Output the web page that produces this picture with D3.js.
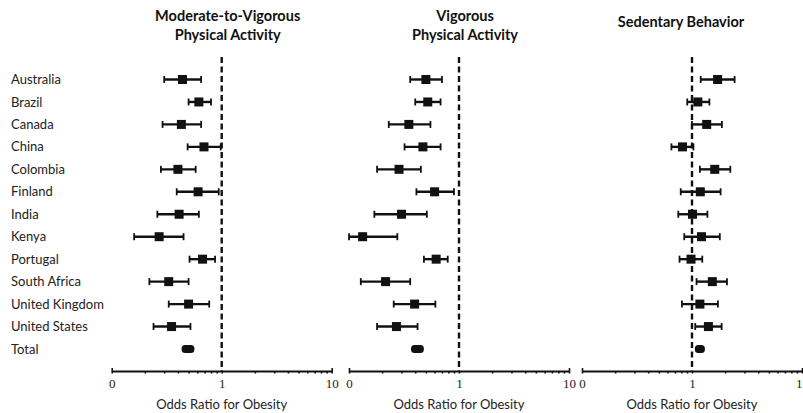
<!DOCTYPE html>
<html>
<head>
<meta charset="utf-8">
<script src="https://cdn.jsdelivr.net/npm/d3@7"></script>
<style>
  body { margin: 0; background: #fff; }
  .diagram svg { display: block; }
</style>
</head>
<body>
<div class="diagram"></div>
<script>
// countries, top to bottom
let countries = ["Australia", "Brazil", "Canada", "China", "Colombia", "Finland", "India",
                 "Kenya", "Portugal", "South Africa", "United Kingdom", "United States", "Total"];

// Moderate-to-Vigorous Physical Activity
let mvpaOR = [0.44, 0.62, 0.43, 0.69, 0.40, 0.61, 0.41, 0.27, 0.67, 0.33, 0.50, 0.35, 0.49];
let mvpaLo = [0.30, 0.50, 0.29, 0.49, 0.28, 0.39, 0.26, 0.16, 0.51, 0.22, 0.33, 0.24, 0.46];
let mvpaHi = [0.65, 0.80, 0.65, 0.98, 0.58, 0.94, 0.62, 0.45, 0.87, 0.50, 0.77, 0.52, 0.53];

// Vigorous Physical Activity
let vpaOR = [0.50, 0.52, 0.35, 0.47, 0.285, 0.60, 0.30, 0.133, 0.62, 0.215, 0.395, 0.27, 0.42];
let vpaLo = [0.36, 0.40, 0.23, 0.32, 0.18, 0.41, 0.17, 0.10, 0.48, 0.128, 0.255, 0.18, 0.39];
let vpaHi = [0.70, 0.68, 0.55, 0.68, 0.45, 0.90, 0.51, 0.275, 0.79, 0.36, 0.61, 0.42, 0.45];

// Sedentary Behavior
let sedOR = [1.71, 1.13, 1.36, 0.82, 1.61, 1.19, 1.01, 1.22, 0.98, 1.53, 1.18, 1.41, 1.18];
let sedLo = [1.20, 0.905, 1.00, 0.65, 1.18, 0.79, 0.75, 0.85, 0.77, 1.10, 0.81, 1.07, 1.13];
let sedHi = [2.44, 1.44, 1.87, 1.03, 2.23, 1.82, 1.38, 1.79, 1.24, 2.08, 1.72, 1.86, 1.23];

let tickValues = [0.1, 0.2, 0.3, 0.4, 0.5, 0.6, 0.7, 0.8, 0.9, 1, 2, 3, 4, 5, 6, 7, 8, 9, 10];
let tickLabels = { 0.1: "0", 1: "1", 10: "10" };
let xLabel = "Odds Ratio for Obesity";

let panels = [
    { title: ["Moderate-to-Vigorous", "Physical Activity"], or: mvpaOR, lo: mvpaLo, hi: mvpaHi, x0: 111.7, x1: 331.7 },
    { title: ["Vigorous", "Physical Activity"], or: vpaOR, lo: vpaLo, hi: vpaHi, x0: 349, x1: 569 },
    { title: ["Sedentary Behavior"], or: sedOR, lo: sedLo, hi: sedHi, x0: 582, x1: 802 }
];

let width = 803, height = 413;
let axisY = 371;
let sansFont = "Lato, 'Open Sans', sans-serif";

let svg = d3.select(".diagram").append("svg").attr("width", width).attr("height", height);

let y = d3.scalePoint().domain(countries).range([79.5, 349]);

// country labels
svg.append("g").selectAll("text").data(countries).enter().append("text")
    .attr("x", 11)
    .attr("y", d => y(d))
    .attr("dy", "0.35em")
    .style("font-family", sansFont)
    .style("font-size", "13px")
    .style("fill", "#222")
    .text(d => d);

panels.forEach(function (p) {
    let x = d3.scaleLog().domain([0.1, 10]).range([p.x0, p.x1]);
    let g = svg.append("g");
    let cx = x(1);

    // title
    let t = g.append("text")
        .attr("x", cx + 6)
        .attr("text-anchor", "middle")
        .style("font-family", sansFont)
        .style("font-weight", "bold")
        .style("font-size", "14.5px")
        .style("fill", "#111");
    if (p.title.length == 2) {
        t.append("tspan").attr("x", cx + 6).attr("y", 21).text(p.title[0]);
        t.append("tspan").attr("x", cx + 6).attr("y", 40).text(p.title[1]);
    } else {
        t.attr("x", cx - 11).append("tspan").attr("x", cx - 11).attr("y", 27).text(p.title[0]);
    }

    // reference line at OR = 1
    g.append("line")
        .attr("x1", cx).attr("x2", cx)
        .attr("y1", 57).attr("y2", axisY)
        .style("stroke", "#111")
        .style("stroke-width", 2.4)
        .style("stroke-dasharray", "6,3.5");

    // axis
    let axis = d3.axisBottom(x)
        .tickValues(tickValues)
        .tickSize(2.5)
        .tickSizeOuter(0)
        .tickFormat(d => tickLabels[d] || "");
    let ax = g.append("g").attr("transform", "translate(0," + axisY + ")").call(axis);
    ax.select(".domain").style("stroke", "#111").style("stroke-width", 2.2);
    ax.selectAll(".tick line").style("stroke", "#111").style("stroke-width", 1.6)
        .attr("y1", d => (tickLabels[d] && d != 1) ? -3 : 0);
    ax.selectAll(".tick text")
        .attr("y", 8)
        .style("font-family", "'Liberation Serif', 'DejaVu Serif', serif")
        .style("font-size", "13px")
        .style("fill", "#222");

    g.append("text")
        .attr("x", cx)
        .attr("y", 409)
        .attr("text-anchor", "middle")
        .style("font-family", sansFont)
        .style("font-size", "13px")
        .style("fill", "#222")
        .text(xLabel);

    // error bars
    let rows = countries.map((c, i) => ({ c: c, or: p.or[i], lo: p.lo[i], hi: p.hi[i], total: c == "Total" }));
    let bars = g.append("g").selectAll("g").data(rows).enter().append("g");

    bars.filter(d => !d.total).each(function (d) {
        let b = d3.select(this);
        let yy = y(d.c);
        b.append("line")
            .attr("x1", x(d.lo)).attr("x2", x(d.hi))
            .attr("y1", yy).attr("y2", yy)
            .style("stroke", "#111").style("stroke-width", 2.4);
        [d.lo, d.hi].forEach(function (v) {
            b.append("line")
                .attr("x1", x(v)).attr("x2", x(v))
                .attr("y1", yy - 3.5).attr("y2", yy + 3.5)
                .style("stroke", "#111").style("stroke-width", 1.8);
        });
        b.append("rect")
            .attr("x", x(d.or) - 4.5).attr("y", yy - 4.5)
            .attr("width", 9).attr("height", 9)
            .style("fill", "#111");
    });

    bars.filter(d => d.total).each(function (d) {
        let yy = y(d.c);
        d3.select(this).append("rect")
            .attr("x", x(d.lo) - 3).attr("y", yy - 4)
            .attr("width", x(d.hi) - x(d.lo) + 6).attr("height", 8)
            .attr("rx", 3.5)
            .style("fill", "#111");
    });
});
</script>
</body>
</html>
